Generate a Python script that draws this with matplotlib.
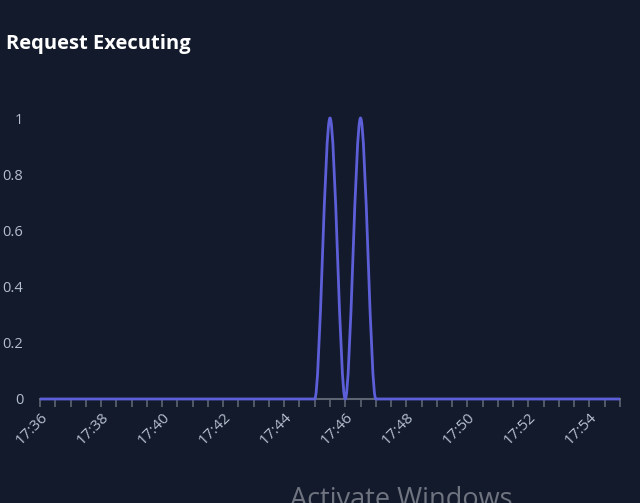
import numpy as np
import pandas as pd
import matplotlib
matplotlib.use("Agg")
import matplotlib.pyplot as plt
import matplotlib.dates as mdates
from matplotlib.path import Path
from matplotlib.patches import PathPatch

# data: one sample every 30 s
times = pd.date_range("2024-01-01 17:36:00", "2024-01-01 17:55:00", freq="30s")
values = [0, 0, 0, 0, 0, 0, 0, 0, 0, 0,
          0, 0, 0, 0, 0, 0, 0, 0, 0, 1,
          0, 1, 0, 0, 0, 0, 0, 0, 0, 0,
          0, 0, 0, 0, 0, 0, 0, 0, 0]
title = "Request Executing"
yticks = [0, 0.2, 0.4, 0.6, 0.8, 1]
ytick_labels = ["0", "0.2", "0.4", "0.6", "0.8", "1"]

bg = "#131a2b"
line_col = "#5c5fd8"
axis_col = "#5d6573"
text_col = "#b4bfcd"


def monotone_path(x, y):
    # cubic bezier path with monotone tangents (like d3 curveMonotoneX)
    x = np.asarray(x, float)
    y = np.asarray(y, float)
    h = np.diff(x)
    s = np.diff(y) / h
    m = np.zeros_like(y)
    for i in range(1, len(y) - 1):
        if s[i - 1] * s[i] > 0:
            m[i] = 2 / (1 / s[i - 1] + 1 / s[i])
    m[0] = s[0]
    m[-1] = s[-1]
    verts = [(x[0], y[0])]
    codes = [Path.MOVETO]
    for i in range(len(h)):
        d = h[i] / 3
        verts += [(x[i] + d, y[i] + m[i] * d),
                  (x[i + 1] - d, y[i + 1] - m[i + 1] * d),
                  (x[i + 1], y[i + 1])]
        codes += [Path.CURVE4] * 3
    return Path(verts, codes)


fig = plt.figure(figsize=(6.4, 5.03), dpi=100, facecolor=bg)
ax = fig.add_axes([40 / 640, (503 - 399) / 503, 580 / 640, 295 / 503])
ax.set_facecolor(bg)

xn = mdates.date2num(times)
ax.add_patch(PathPatch(monotone_path(xn, values), fill=False,
                       edgecolor=line_col, lw=2.0, clip_on=False, zorder=3))

ax.set_xlim(xn[0], xn[-1])
ax.set_ylim(0, 1.05)

for sp in ["top", "right", "left"]:
    ax.spines[sp].set_visible(False)
ax.spines["bottom"].set_color(axis_col)
ax.spines["bottom"].set_linewidth(1.5)

ax.set_yticks(yticks)
ax.set_yticklabels(ytick_labels)
ax.tick_params(axis="y", length=0, pad=12, colors=text_col, labelsize=10.5)
for lab in ax.get_yticklabels():
    lab.set_fontfamily("Open Sans")

ax.xaxis.set_major_locator(mdates.MinuteLocator(byminute=range(0, 60, 2)))
ax.xaxis.set_minor_locator(mdates.SecondLocator(bysecond=[0, 30]))
ax.xaxis.set_major_formatter(mdates.DateFormatter("%H:%M"))
ax.tick_params(axis="x", which="both", length=6, width=1.2, color=axis_col,
               labelcolor=text_col, labelsize=11, pad=2)
for lab in ax.get_xticklabels():
    lab.set_rotation(45)
    lab.set_ha("right")
    lab.set_va("top")
    lab.set_rotation_mode("anchor")
    lab.set_fontfamily("Open Sans")

fig.text(6 / 640, 1 - 44 / 503, title, color="white", fontsize=14.5,
         fontweight="bold", fontfamily="Open Sans", va="center", ha="left")

# partly hidden watermark at the bottom edge, as in the screenshot
fig.text(290 / 640, 1 - 486 / 503, "Activate Windows", color="#6f7480",
         fontsize=19.5, fontfamily="Open Sans", va="top", ha="left")

fig.savefig("out.png", dpi=100, facecolor=bg)
